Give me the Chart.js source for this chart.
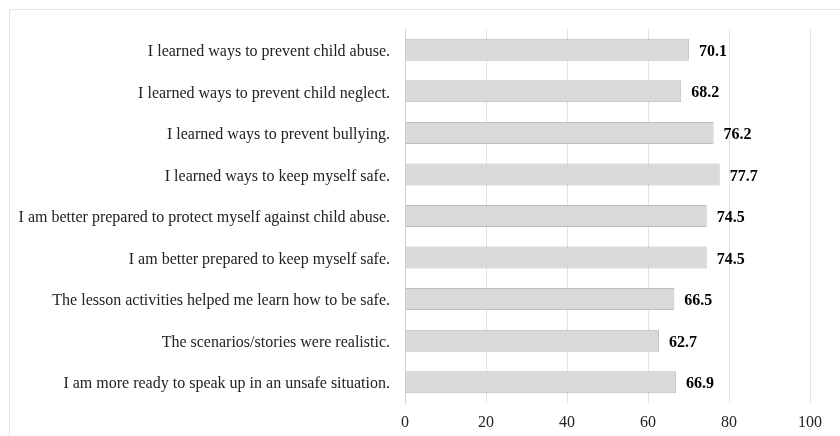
<!DOCTYPE html>
<html>
<head>
<meta charset="utf-8">
<script src="https://cdn.jsdelivr.net/npm/chart.js@4/dist/chart.umd.min.js"></script>
<style>
  html, body { margin: 0; padding: 0; background: #fff; overflow: hidden; }
  #wrap { position: relative; width: 840px; height: 436px; }
  #frame { position: absolute; left: 9px; top: 9px; width: 840px; height: 440px; border: 1px solid #e4e4e4; }
  canvas { position: absolute; left: 0; top: 0; }
</style>
</head>
<body>
<div id="wrap">
  <div id="frame"></div>
  <canvas id="surveyChart" width="840" height="436"></canvas>
</div>
<script>
// Survey statements (top to bottom)
const statements = [
    'I learned ways to prevent child abuse.',
    'I learned ways to prevent child neglect.',
    'I learned ways to prevent bullying.',
    'I learned ways to keep myself safe.',
    'I am better prepared to protect myself against child abuse.',
    'I am better prepared to keep myself safe.',
    'The lesson activities helped me learn how to be safe.',
    'The scenarios/stories were realistic.',
    'I am more ready to speak up in an unsafe situation.'
];
// Percent agreeing
const percents = [70.1, 68.2, 76.2, 77.7, 74.5, 74.5, 66.5, 62.7, 66.9];
const xTicks = [0, 20, 40, 60, 80, 100];

const FONT = '"Liberation Serif", "Times New Roman", serif';

// value labels next to bar ends
const valueLabels = {
    id: 'valueLabels',
    afterDatasetsDraw(chart) {
        const ctx = chart.ctx;
        const meta = chart.getDatasetMeta(0);
        ctx.save();
        ctx.font = 'bold 16px ' + FONT;
        ctx.fillStyle = '#000';
        ctx.textAlign = 'left';
        ctx.textBaseline = 'middle';
        meta.data.forEach((bar, i) => {
            ctx.fillText(percents[i].toFixed(1), bar.x + 10, bar.y + 2);
        });
        ctx.restore();
    }
};

const ctx = document.getElementById('surveyChart').getContext('2d');
new Chart(ctx, {
    type: 'bar',
    data: {
        labels: statements,
        datasets: [{
            data: percents,
            backgroundColor: '#d9d9d9',
            borderColor: '#bcbcbc',
            borderWidth: 1,
            borderSkipped: false,
            barPercentage: 0.53,
            categoryPercentage: 1.0
        }]
    },
    options: {
        indexAxis: 'y',
        responsive: false,
        animation: false,
        devicePixelRatio: 1,
        layout: { padding: { top: 29, right: 30, bottom: 0, left: 0 } },
        plugins: {
            legend: { display: false },
            tooltip: { enabled: false }
        },
        scales: {
            x: {
                min: 0,
                max: 100,
                afterBuildTicks: scale => { scale.ticks = xTicks.map(v => ({ value: v })); },
                afterFit: scale => { scale.height = 33; },
                grid: { color: '#e2e2e2', drawTicks: false },
                border: { display: false },
                ticks: {
                    padding: 10,
                    color: '#222',
                    font: { family: FONT, size: 16 }
                }
            },
            y: {
                afterFit: scale => { scale.width = 405; },
                grid: { display: false },
                border: { display: true, color: '#d4d4d4' },
                ticks: {
                    padding: 7,
                    labelOffset: 2,
                    color: '#222',
                    font: { family: FONT, size: 16 }
                }
            }
        }
    },
    plugins: [valueLabels]
});
</script>
</body>
</html>
